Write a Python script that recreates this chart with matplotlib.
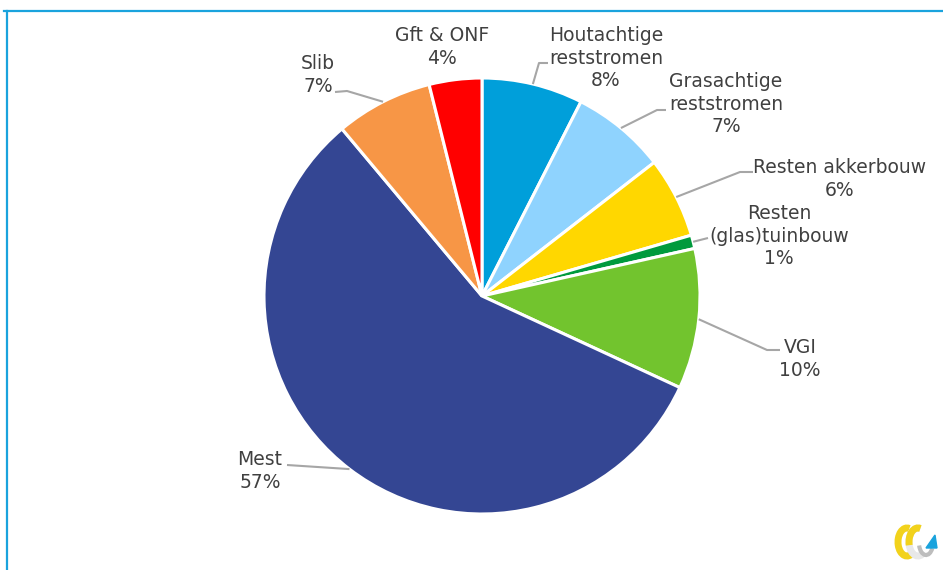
import numpy as np
import matplotlib.pyplot as plt
from matplotlib.patches import Arc, Polygon

# slice data, clockwise from 12 o'clock
labels = ["Houtachtige\nreststromen", "Grasachtige\nreststromen", "Resten akkerbouw",
          "Resten\n(glas)tuinbouw", "VGI", "Mest", "Slib", "Gft & ONF"]
shares = [7.5, 7.0, 6.0, 1.0, 10.4, 57.0, 7.2, 3.9]
colors = ["#009FDA", "#8FD3FE", "#FFD700", "#009A3D", "#72C42E", "#344693", "#F79646", "#FF0000"]

# label layout in pixels (top-down y)
label_pos = [(606, 58), (726, 104), (840, 179), (779, 236), (800, 359), (260, 471), (318, 75), (442, 47)]
elbows = [[(539, 63), (548, 63)], [(657, 110), (666, 110)], [(740, 172), (753, 172)],
          [(708, 238)], [(767, 350), (780, 350)], [(287, 465)], [(347, 91), (335, 92)], []]

W, H = 943, 570
cx, cy, R = 482, 296, 218
text_col = "#404040"
line_col = "#A6A6A6"

fig = plt.figure(figsize=(W / 100, H / 100), dpi=100)
ax = fig.add_axes([0, 0, 1, 1])

ax.pie(shares, colors=colors, startangle=90, counterclock=False,
       center=(cx, H - cy), radius=R,
       wedgeprops=dict(edgecolor="white", linewidth=2.2))
ax.set_xlim(0, W)
ax.set_ylim(0, H)
ax.set_aspect("equal")
ax.axis("off")

total = sum(shares)
cum = np.cumsum([0] + shares)
for i, lab in enumerate(labels):
    pct = shares[i] / total * 100
    tx, ty = label_pos[i]
    ax.text(tx, H - ty, f"{lab}\n{pct:.0f}%", ha="center", va="center",
            multialignment="center", fontsize=13.5, color=text_col,
            family="DejaVu Sans", linespacing=1.25)
    if elbows[i]:
        mid = (cum[i] + cum[i + 1]) / 2 / total * 2 * np.pi
        sx = cx + R * np.sin(mid)
        sy = cy - R * np.cos(mid)
        pts = [(sx, sy)] + elbows[i]
        ax.plot([p[0] for p in pts], [H - p[1] for p in pts], color=line_col, lw=1.5,
                solid_capstyle="butt")

# frame lines (top and left)
ax.plot([4, W], [H - 11, H - 11], color="#1AA3DD", lw=1.6)
ax.plot([7, 7], [H - 11, 0], color="#1AA3DD", lw=1.6)

# small logo bottom right
ax.add_patch(Arc((907, H - 542), 18, 28, theta1=80, theta2=300, color="#F2D21B", lw=5))
ax.add_patch(Arc((918, H - 542), 18, 28, theta1=80, theta2=300, color="#E8E8E8", lw=5))
ax.add_patch(Arc((918, H - 542), 18, 28, theta1=80, theta2=200, color="#F2D21B", lw=5))
ax.add_patch(Arc((926, H - 543), 14, 24, theta1=200, theta2=320, color="#BDBDBD", lw=3))
ax.add_patch(Polygon([(926, H - 548), (937, H - 548), (935, H - 535)], closed=True, color="#1AA3DD"))

fig.savefig("out.png", dpi=100)
